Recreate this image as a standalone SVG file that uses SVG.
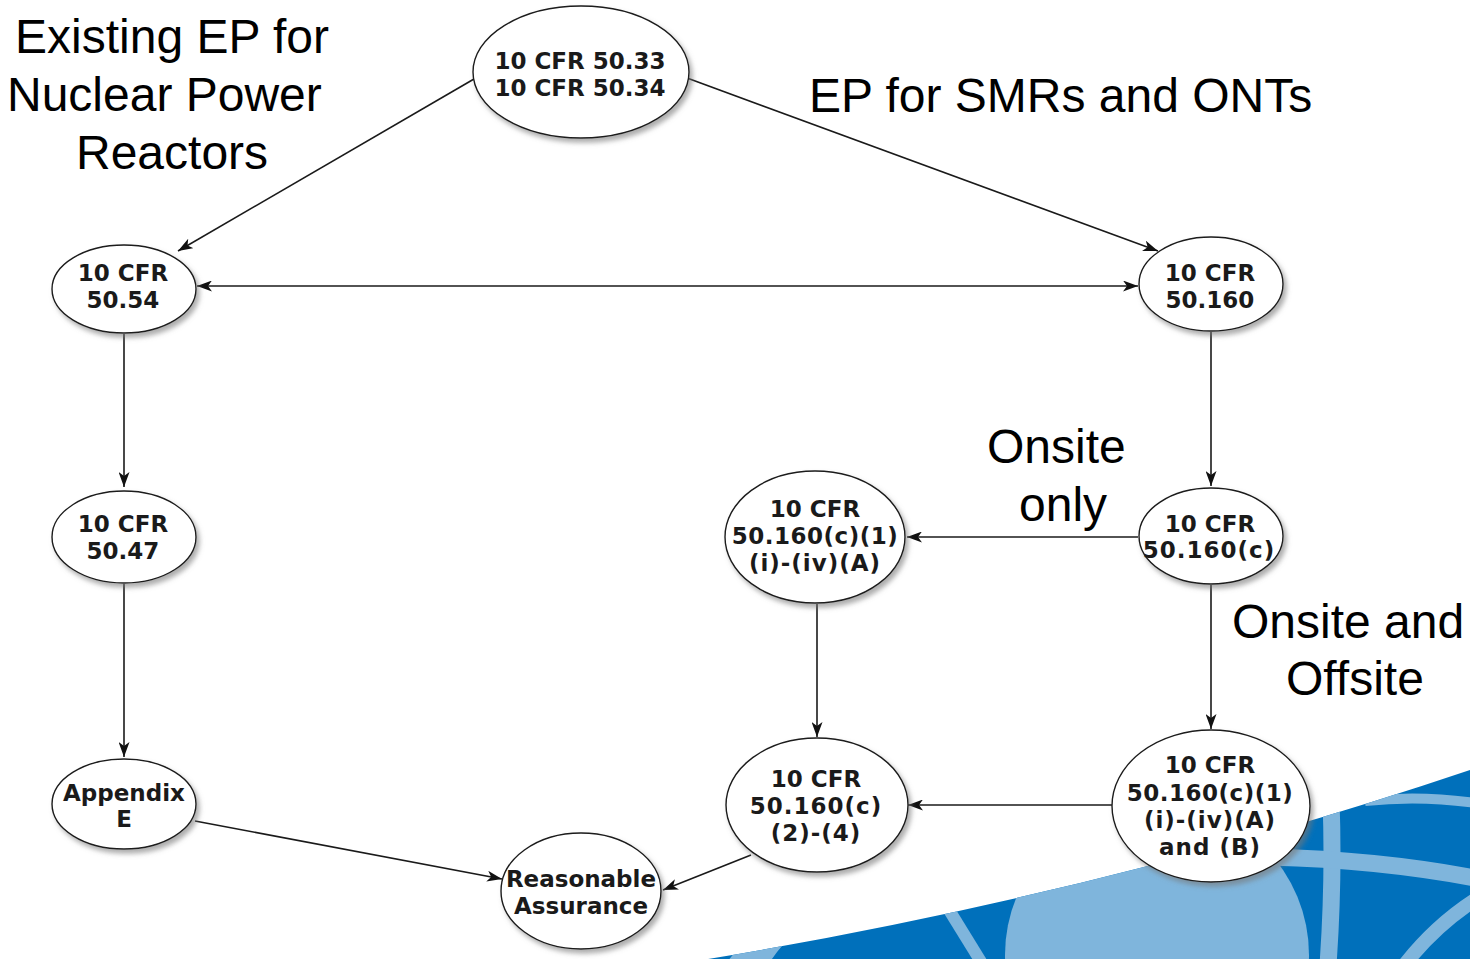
<svg xmlns="http://www.w3.org/2000/svg" width="1470" height="959" viewBox="0 0 1470 959">
  <defs>
    <style>
      .node ellipse { fill: #ffffff; stroke: #1a1a1a; stroke-width: 1.4; filter: url(#shadow); }
      .node text { font-family: "DejaVu Sans", Verdana, sans-serif; font-weight: bold; font-size: 23px; fill: #1a1a1a; text-anchor: middle; }
      .edge { stroke: #1a1a1a; stroke-width: 1.6; fill: none; marker-end: url(#arrow); }
      .label { font-family: "Liberation Sans", Arial, sans-serif; font-size: 48px; fill: #000000; }
      .dark { fill: #0070bb; }
      .light { fill: #7fb5dc; }
      .lightline { stroke: #7fb5dc; fill: none; }
    </style>
    <filter id="shadow" x="-20%" y="-20%" width="150%" height="150%">
      <feDropShadow dx="3" dy="4" stdDeviation="2.5" flood-color="#777777" flood-opacity="0.6"/>
    </filter>
    <marker id="arrow" viewBox="0 0 15 11" refX="15" refY="5.5" markerWidth="15" markerHeight="11" markerUnits="userSpaceOnUse" orient="auto-start-reverse">
      <path d="M0,0 L15,5.5 L0,11 L4,5.5 Z" fill="#111111"/>
    </marker>
    <clipPath id="bandClip">
      <path d="M690,962 Q1100,895 1470,770 L1470,962 Z"/>
    </clipPath>
  </defs>

  <rect x="0" y="0" width="1470" height="959" fill="#ffffff"/>

  <!-- corner artwork: blue band with globe arcs -->
  <g id="band" clip-path="url(#bandClip)">
    <rect class="dark" x="680" y="760" width="800" height="210"/>
    <path class="light" d="M727,962 L740,946 L798,930 Q780,946 770,962 Z"/>
    <path class="lightline" d="M946,905 L983,965" stroke-width="12"/>
    <circle class="light" cx="1157" cy="955" r="152"/>
    <path class="lightline" d="M1331,800 Q1334,880 1328,965" stroke-width="17"/>
    <path class="lightline" d="M1270,857 Q1380,860 1475,878" stroke-width="17"/>
    <path class="lightline" d="M1365,801 Q1420,795 1475,803" stroke-width="10"/>
    <path class="lightline" d="M1402,968 Q1435,925 1478,898" stroke-width="14"/>
  </g>

  <!-- connectors -->
  <g id="connectors">
    <line class="edge" x1="474" y1="79" x2="178" y2="251"/>
    <line class="edge" x1="687" y1="78" x2="1158" y2="251"/>
    <line class="edge" x1="197" y1="286" x2="1138" y2="286" marker-start="url(#arrow)"/>
    <line class="edge" x1="124" y1="334" x2="124" y2="487"/>
    <line class="edge" x1="1211" y1="332" x2="1211" y2="486"/>
    <line class="edge" x1="124" y1="584" x2="124" y2="757"/>
    <line class="edge" x1="1138" y1="537" x2="907" y2="537"/>
    <line class="edge" x1="1211" y1="585" x2="1211" y2="729"/>
    <line class="edge" x1="817" y1="604" x2="817" y2="737"/>
    <line class="edge" x1="1112" y1="805" x2="908" y2="805"/>
    <line class="edge" x1="195" y1="821" x2="502" y2="879"/>
    <line class="edge" x1="751" y1="855" x2="663" y2="890"/>
  </g>

  <!-- nodes -->
  <g id="n-50-33" class="node">
    <ellipse cx="581" cy="72" rx="108" ry="66"/>
    <text x="580" y="69">10 CFR 50.33</text>
    <text x="580" y="96">10 CFR 50.34</text>
  </g>
  <g id="n-50-54" class="node">
    <ellipse cx="124" cy="289" rx="72" ry="44"/>
    <text x="123" y="281">10 CFR</text>
    <text x="123" y="308">50.54</text>
  </g>
  <g id="n-50-160" class="node">
    <ellipse cx="1211" cy="284" rx="72" ry="47"/>
    <text x="1210" y="281">10 CFR</text>
    <text x="1210" y="308">50.160</text>
  </g>
  <g id="n-50-47" class="node">
    <ellipse cx="124" cy="537" rx="72" ry="46"/>
    <text x="123" y="532">10 CFR</text>
    <text x="123" y="559">50.47</text>
  </g>
  <g id="n-50-160c" class="node">
    <ellipse cx="1211" cy="536" rx="72" ry="48"/>
    <text x="1210" y="532">10 CFR</text>
    <text x="1209" y="558" letter-spacing="1">50.160(c)</text>
  </g>
  <g id="n-c1-A" class="node">
    <ellipse cx="815" cy="537" rx="90" ry="66"/>
    <text x="815" y="517">10 CFR</text>
    <text x="815" y="544" letter-spacing="0.5">50.160(c)(1)</text>
    <text x="815" y="571" letter-spacing="1">(i)-(iv)(A)</text>
  </g>
  <g id="n-c2-4" class="node">
    <ellipse cx="817" cy="805" rx="91" ry="67"/>
    <text x="816" y="787">10 CFR</text>
    <text x="816" y="814" letter-spacing="1">50.160(c)</text>
    <text x="816" y="841" letter-spacing="1">(2)-(4)</text>
  </g>
  <g id="n-c1-AB" class="node">
    <ellipse cx="1211" cy="806" rx="99" ry="76"/>
    <text x="1210" y="773">10 CFR</text>
    <text x="1210" y="801" letter-spacing="0.5">50.160(c)(1)</text>
    <text x="1210" y="828" letter-spacing="1">(i)-(iv)(A)</text>
    <text x="1210" y="855" letter-spacing="1">and (B)</text>
  </g>
  <g id="n-appendix-e" class="node">
    <ellipse cx="124" cy="804" rx="72" ry="45"/>
    <text x="124" y="801">Appendix</text>
    <text x="124" y="827">E</text>
  </g>
  <g id="n-reasonable" class="node">
    <ellipse cx="581" cy="891" rx="80" ry="58"/>
    <text x="581" y="887">Reasonable</text>
    <text x="581" y="914">Assurance</text>
  </g>

  <!-- section labels -->
  <g id="labels">
    <text class="label" x="15" y="53">Existing EP for</text>
    <text class="label" x="7" y="111">Nuclear Power</text>
    <text class="label" x="76" y="169">Reactors</text>
    <text class="label" x="809" y="112">EP for SMRs and ONTs</text>
    <text class="label" x="987" y="463">Onsite</text>
    <text class="label" x="1019" y="521">only</text>
    <text class="label" x="1232" y="638">Onsite and</text>
    <text class="label" x="1286" y="695">Offsite</text>
  </g>
</svg>
